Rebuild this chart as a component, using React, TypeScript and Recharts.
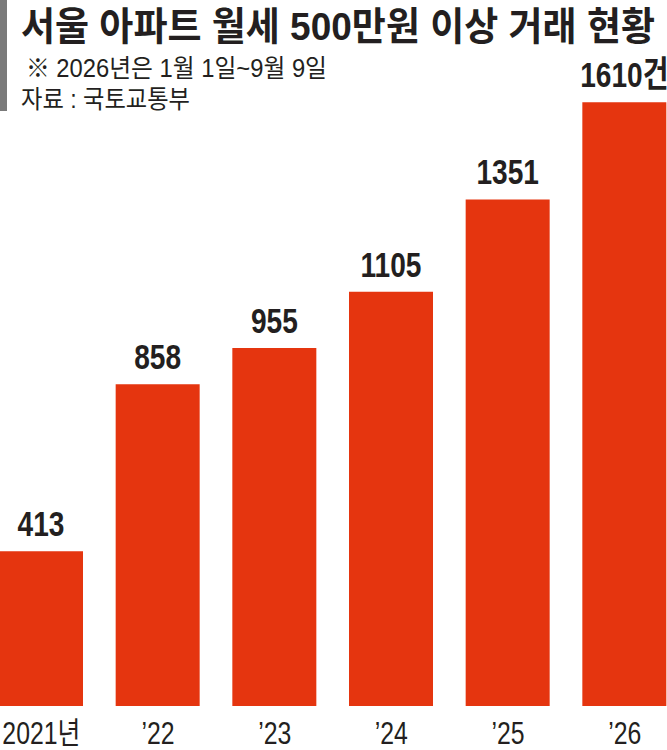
import { Bar, BarChart, LabelList, XAxis, YAxis } from 'recharts';

const years = ['2021년', '’22', '’23', '’24', '’25', '’26'];
const counts = [413, 858, 955, 1105, 1351, 1610];
const valueLabels = ['413', '858', '955', '1105', '1351', '1610건'];

const title = '서울 아파트 월세 500만원 이상 거래 현황';
const note = '※ 2026년은 1월 1일~9월 9일';
const source = '자료 : 국토교통부';

const data = years.map((year, i) => ({ year, count: counts[i], label: valueLabels[i] }));

const FONT = "'Liberation Sans', 'Noto Sans CJK KR', sans-serif";
const BAR_COLOR = '#e5350f';
const TEXT = '#231f20';

function YearTick({ x, payload }: any) {
  return (
    <text
      transform={`translate(${x},744) scale(0.8,1)`}
      textAnchor="middle"
      fontFamily={FONT}
      fontSize={31}
      fill={TEXT}
    >
      {payload.value}
    </text>
  );
}

function ValueLabel({ x, y, width, index }: any) {
  const cx = Number(x) + Number(width) / 2;
  return (
    <text
      transform={`translate(${cx},${Number(y) - 15}) scale(0.78,1)`}
      textAnchor="middle"
      fontFamily={FONT}
      fontWeight="bold"
      fontSize={36}
      fill={TEXT}
    >
      {valueLabels[index]}
    </text>
  );
}

export default function App() {
  return (
    <div style={{ position: 'fixed', left: 0, top: 0, width: 667, height: 750, overflow: 'hidden', background: '#fff' }}>
      <div style={{ position: 'absolute', left: -17, top: 0 }}>
        <BarChart width={700} height={750} data={data} margin={{ top: 31, right: 0, bottom: 0, left: 0 }}>
          <XAxis dataKey="year" axisLine={false} tickLine={false} height={44} interval={0} tick={<YearTick />} />
          <YAxis hide domain={[0, 1800]} />
          <Bar dataKey="count" fill={BAR_COLOR} barSize={84} isAnimationActive={false}>
            <LabelList dataKey="label" content={<ValueLabel />} />
          </Bar>
        </BarChart>
      </div>
      <svg width={667} height={130} style={{ position: 'absolute', left: 0, top: 0 }}>
        <rect x={0} y={0} width={7} height={111} fill="#7a7a7a" />
        <text x={21} y={40} fontFamily={FONT} fontWeight="bold" fontSize={39} fill={TEXT} textLength={634} lengthAdjust="spacingAndGlyphs">
          {title}
        </text>
        <text x={26} y={77} fontFamily={FONT} fontSize={25} fill={TEXT} textLength={301} lengthAdjust="spacingAndGlyphs">
          {note}
        </text>
        <text x={21} y={108} fontFamily={FONT} fontSize={25} fill={TEXT} textLength={169} lengthAdjust="spacingAndGlyphs">
          {source}
        </text>
      </svg>
    </div>
  );
}
